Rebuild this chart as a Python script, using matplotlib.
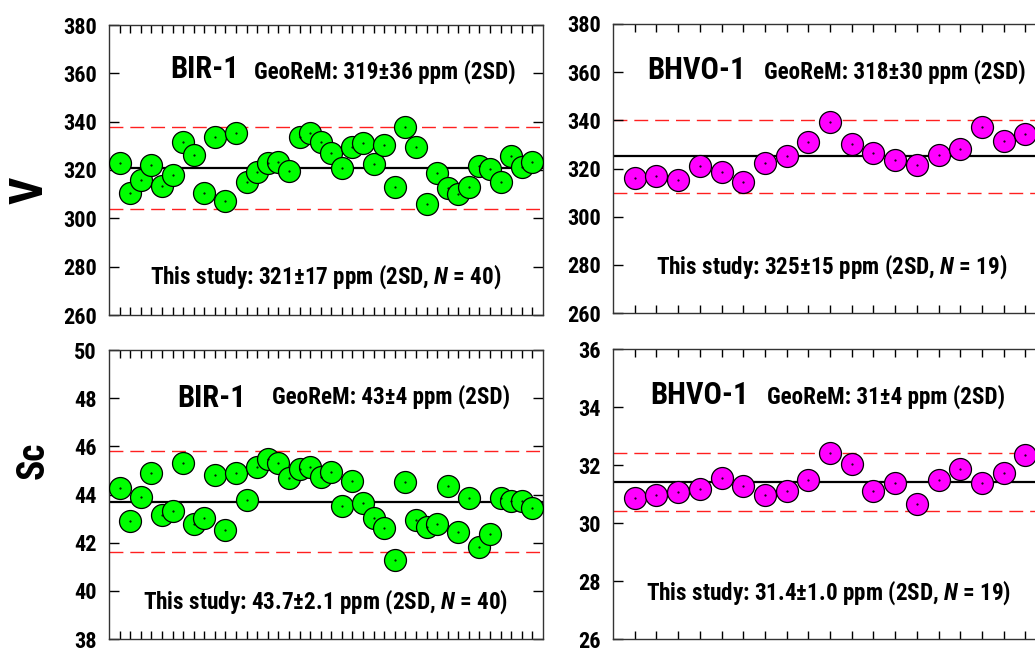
import numpy as np
import matplotlib
matplotlib.use("Agg")
import matplotlib.pyplot as plt

# narrow bold sans (close to Arial Narrow)
plt.rcParams['font.family'] = ['Roboto Condensed', 'Liberation Sans', 'DejaVu Sans']
plt.rcParams['font.weight'] = 'bold'
plt.rcParams['mathtext.fontset'] = 'custom'
plt.rcParams['mathtext.it'] = 'Roboto Condensed:bold:italic'
plt.rcParams['mathtext.rm'] = 'Roboto Condensed:bold'

# V (ppm), BIR-1, 40 runs
bir_v = [323.0, 310.3, 315.9, 322.1, 313.5, 317.9, 331.7, 326.2, 310.3, 333.5,
         307.2, 335.2, 314.9, 319.0, 323.0, 323.4, 319.7, 333.8, 335.2, 331.7,
         326.9, 320.7, 329.7, 331.3, 322.3, 330.3, 312.8, 337.7, 329.7, 305.8,
         318.6, 312.4, 310.1, 312.8, 321.8, 320.4, 315.2, 325.8, 321.4, 323.4]
# V (ppm), BHVO-1, 19 runs
bhvo_v = [315.9, 316.8, 315.4, 321.0, 318.6, 314.5, 322.3, 325.1, 330.8, 339.3,
          330.3, 326.6, 323.7, 321.4, 325.5, 327.9, 337.2, 331.4, 334.5]
# Sc (ppm), BIR-1
bir_sc = [44.26, 42.90, 43.91, 44.88, 43.15, 43.33, 45.30, 42.77, 43.02, 44.81,
          42.53, 44.88, 43.78, 45.16, 45.46, 45.30, 44.68, 45.05, 45.16, 44.74,
          44.95, 43.53, 44.56, 43.66, 43.02, 42.60, 41.29, 44.50, 42.95, 42.63,
          42.78, 44.36, 42.46, 43.85, 41.84, 42.35, 43.85, 43.71, 43.71, 43.43]
# Sc (ppm), BHVO-1
bhvo_sc = [30.87, 30.96, 31.08, 31.18, 31.54, 31.27, 30.95, 31.10, 31.50, 32.43,
           32.05, 31.10, 31.37, 30.66, 31.47, 31.85, 31.39, 31.73, 32.33]

# mean and 2SD of this study
stats_bir_v = (321, 17)
stats_bhvo_v = (325, 15)
stats_bir_sc = (43.7, 2.1)
stats_bhvo_sc = (31.4, 1.0)

W, H = 1035, 649
fig = plt.figure(figsize=(W / 100, H / 100), dpi=100)


def box(x0, y0, x1, y1):
    return [x0 / W, 1 - y1 / H, (x1 - x0) / W, (y1 - y0) / H]


def panel(ax, vals, stats, color, ylim, yticks, name, georem, study, pos):
    x = np.arange(1, len(vals) + 1)
    mean, sd2 = stats
    ax.axhline(mean, color='black', lw=1.6, zorder=1)
    for v in (mean - sd2, mean + sd2):
        ax.axhline(v, color='#ff2020', lw=1.0, dashes=(10, 5), zorder=1)
    ax.scatter(x, vals, s=250, c=color, edgecolors='black', linewidths=0.9, zorder=3)
    ax.scatter(x, vals, s=0.3, c='black', zorder=4)
    ax.set_xlim(0, len(vals) + 1)
    ax.set_ylim(*ylim)
    ax.set_yticks(yticks)
    ax.set_xticks(x)
    ax.set_xticklabels([])
    ax.tick_params(axis='x', direction='in', top=True, bottom=True, length=6, width=1)
    ax.tick_params(axis='y', direction='in', left=True, right=True, length=7, width=1,
                   labelsize=16, pad=9)
    for s in ax.spines.values():
        s.set_color('#333333')
        s.set_linewidth(1)
    (nx, ny), (gx, gy), (sx, sy) = pos
    ax.text(nx, ny, name, transform=ax.transAxes, fontsize=22, ha='left', va='center')
    ax.text(gx, gy, georem, transform=ax.transAxes, fontsize=16.7, ha='left', va='center')
    ax.text(sx, sy, study, transform=ax.transAxes, fontsize=16.7, ha='center', va='center')


ax_tl = fig.add_axes(box(109, 25, 543, 315))
ax_tr = fig.add_axes(box(613, 24, 1047, 313))
ax_bl = fig.add_axes(box(109, 350, 543, 639))
ax_br = fig.add_axes(box(613, 349, 1047, 639))

panel(ax_tl, bir_v, stats_bir_v, '#00ff00', (260, 380), range(260, 381, 20), 'BIR-1',
      'GeoReM: 319±36 ppm (2SD)', r'This study: 321±17 ppm (2SD, $\it{N}$ = 40)',
      ((0.141, 0.848), (0.334, 0.838), (0.5, 0.131)))
panel(ax_tr, bhvo_v, stats_bhvo_v, '#ff00ff', (260, 380), range(260, 381, 20), 'BHVO-1',
      'GeoReM: 318±30 ppm (2SD)', r'This study: 325±15 ppm (2SD, $\it{N}$ = 19)',
      ((0.078, 0.841), (0.348, 0.834), (0.505, 0.159)))
panel(ax_bl, bir_sc, stats_bir_sc, '#00ff00', (38, 50), range(38, 51, 2), 'BIR-1',
      'GeoReM: 43±4 ppm (2SD)', r'This study: 43.7±2.1 ppm (2SD, $\it{N}$ = 40)',
      ((0.157, 0.834), (0.376, 0.837), (0.499, 0.128)))
panel(ax_br, bhvo_sc, stats_bhvo_sc, '#ff00ff', (26, 36), range(26, 37, 2), 'BHVO-1',
      'GeoReM: 31±4 ppm (2SD)', r'This study: 31.4±1.0 ppm (2SD, $\it{N}$ = 19)',
      ((0.085, 0.841), (0.355, 0.834), (0.497, 0.159)))

fig.text(30 / W, 1 - 190 / H, 'V', fontsize=34, rotation=90, ha='center', va='center')
fig.text(33 / W, 1 - 460 / H, 'Sc', fontsize=27, rotation=90, ha='center', va='center')

fig.savefig('out.png', dpi=100)
